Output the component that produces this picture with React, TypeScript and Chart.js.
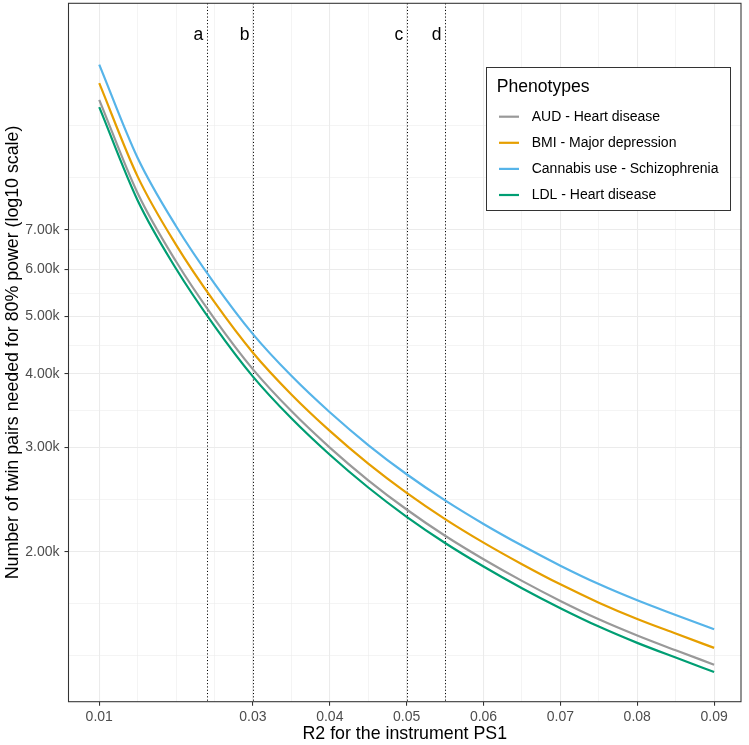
import React, { useEffect, useRef } from 'react';
import { Chart, registerables } from 'chart.js';

Chart.register(...registerables);

const FONT = "'Liberation Sans', Arial, Helvetica, sans-serif";

// R2 of the instrument (x)
const r2Values = [0.010, 0.015, 0.020, 0.025, 0.030, 0.035, 0.040, 0.045, 0.050, 0.055, 0.060, 0.065, 0.070, 0.075, 0.080, 0.085, 0.090];

// Twin pairs needed for 80% power
const audHeart = [11623, 8078, 6192, 4952, 4068, 3458, 3000, 2641, 2357, 2128, 1942, 1785, 1651, 1537, 1443, 1362, 1288];
const bmiDepression = [12402, 8619, 6607, 5284, 4340, 3689, 3201, 2818, 2515, 2271, 2072, 1905, 1761, 1640, 1539, 1454, 1375];
const cannabisScz = [13335, 9268, 7104, 5682, 4667, 3967, 3442, 3030, 2704, 2442, 2228, 2048, 1894, 1763, 1655, 1563, 1478];
const ldlHeart = [11300, 7854, 6020, 4815, 3955, 3362, 2917, 2568, 2291, 2069, 1888, 1735, 1605, 1494, 1402, 1324, 1252];

const seriesLabels = ['AUD - Heart disease', 'BMI - Major depression', 'Cannabis use - Schizophrenia', 'LDL - Heart disease'];
const seriesColors = ['#999999', '#E69F00', '#56B4E9', '#009E73'];
const legendTitle = 'Phenotypes';

// x axis breaks
const xMajorValues = [0.01, 0.03, 0.04, 0.05, 0.06, 0.07, 0.08, 0.09];
const xMajorLabels = ['0.01', '0.03', '0.04', '0.05', '0.06', '0.07', '0.08', '0.09'];
const xMinorValues = [0.015, 0.02, 0.025, 0.035, 0.045, 0.055, 0.065, 0.075, 0.085];

// y axis breaks (log10)
const yMajorValues = [2000, 3000, 4000, 5000, 6000, 7000];
const yMajorLabels = ['2.00k', '3.00k', '4.00k', '5.00k', '6.00k', '7.00k'];
const yMinorValues = [1333.3, 1633.0, 2449.5, 3464.1, 4472.1, 5477.2, 6480.7, 8573.2, 10500];

// reference lines
const markerValues = [0.024, 0.03, 0.05, 0.055];
const markerLabels = ['a', 'b', 'c', 'd'];

const xTitle = 'R2 for the instrument PS1';
const yTitle = 'Number of twin pairs needed for 80% power (log10 scale)';

const near = (a: number, b: number, eps: number) => Math.abs(a - b) < eps;
const xIsMajor = (v: number) => xMajorValues.some((m) => near(m, v, 1e-6));
const yIsMajor = (v: number) => yMajorValues.some((m) => near(m, v, 0.5));

const seriesData = [audHeart, bmiDepression, cannabisScz, ldlHeart];

const decorPlugin = {
  id: 'decor',
  beforeDatasetsDraw(chart: any) {
    const { ctx, chartArea, scales } = chart;
    ctx.save();
    ctx.strokeStyle = '#000000';
    ctx.lineWidth = 1;
    ctx.setLineDash([1.1, 2.2]);
    markerValues.forEach((v) => {
      const x = Math.round(scales.x.getPixelForValue(v)) + 0.5;
      ctx.beginPath();
      ctx.moveTo(x, chartArea.top);
      ctx.lineTo(x, chartArea.bottom);
      ctx.stroke();
    });
    ctx.restore();
  },
  afterDraw(chart: any) {
    const { ctx, chartArea, scales } = chart;
    ctx.save();
    // marker labels
    ctx.fillStyle = '#000000';
    ctx.font = `17.5px ${FONT}`;
    ctx.textAlign = 'right';
    ctx.textBaseline = 'alphabetic';
    markerValues.forEach((v, i) => {
      const x = scales.x.getPixelForValue(v);
      ctx.fillText(markerLabels[i], x - 3.5, 39.5);
    });
    // panel border
    ctx.strokeStyle = '#333333';
    ctx.lineWidth = 1.07;
    ctx.setLineDash([]);
    ctx.strokeRect(chartArea.left, chartArea.top, chartArea.right - chartArea.left, chartArea.bottom - chartArea.top);
    // legend
    const bx = 486.5, by = 67.5, bw = 244, bh = 143;
    ctx.fillStyle = '#ffffff';
    ctx.fillRect(bx, by, bw, bh);
    ctx.strokeStyle = '#333333';
    ctx.lineWidth = 1;
    ctx.strokeRect(bx, by, bw, bh);
    ctx.fillStyle = '#000000';
    ctx.textAlign = 'left';
    ctx.textBaseline = 'middle';
    ctx.font = `17.6px ${FONT}`;
    ctx.fillText(legendTitle, 496.7, 87);
    ctx.font = `14px ${FONT}`;
    chart.data.datasets.forEach((ds: any, i: number) => {
      const y = 116.7 + i * 26.1;
      ctx.strokeStyle = ds.borderColor;
      ctx.lineWidth = 2.2;
      ctx.beginPath();
      ctx.moveTo(499, y);
      ctx.lineTo(519, y);
      ctx.stroke();
      ctx.fillStyle = '#000000';
      ctx.fillText(ds.label, 531.7, y);
    });
    ctx.restore();
  },
};

export default function App() {
  const ref = useRef<HTMLCanvasElement>(null);
  useEffect(() => {
    const canvas = ref.current;
    if (!canvas) return;
    const chart = new Chart(canvas, {
      type: 'line',
      data: {
        datasets: seriesLabels.map((label, i) => ({
          label,
          data: r2Values.map((x, j) => ({ x, y: seriesData[i][j] })),
          borderColor: seriesColors[i],
          backgroundColor: seriesColors[i],
          borderWidth: 2.2,
          pointRadius: 0,
          fill: false,
          cubicInterpolationMode: 'monotone' as const,
        })),
      },
      options: {
        animation: false,
        responsive: false,
        devicePixelRatio: 1,
        layout: { padding: { left: 0, top: 3.3, right: 8, bottom: 0 } },
        plugins: { legend: { display: false }, tooltip: { enabled: false } },
        scales: {
          x: {
            type: 'linear',
            min: 0.006,
            max: 0.0935,
            afterBuildTicks: (scale: any) => {
              scale.ticks = [...xMajorValues, ...xMinorValues].sort((a, b) => a - b).map((v) => ({ value: v }));
            },
            afterFit: (scale: any) => {
              scale.height = 43.3;
              scale.paddingLeft = 0;
              scale.paddingRight = 0;
            },
            border: { display: false },
            grid: {
              color: '#EBEBEB',
              lineWidth: (c: any) => (c.tick && xIsMajor(c.tick.value) ? 1.07 : 0.55),
              tickColor: (c: any) => (c.tick && xIsMajor(c.tick.value) ? '#333333' : 'rgba(0,0,0,0)'),
              tickWidth: 1.07,
              tickLength: 4,
            },
            ticks: {
              autoSkip: false,
              maxRotation: 0,
              padding: 3.5,
              color: '#4D4D4D',
              font: { family: FONT, size: 14 },
              callback: (v: any) => {
                const idx = xMajorValues.findIndex((m) => near(m, Number(v), 1e-6));
                return idx >= 0 ? xMajorLabels[idx] : '';
              },
            },
            title: {
              display: true,
              text: xTitle,
              color: '#000000',
              font: { family: FONT, size: 17.8, lineHeight: 1 },
              padding: { top: 0, bottom: 2 },
            },
          },
          y: {
            type: 'logarithmic',
            min: 1115,
            max: 16928,
            afterBuildTicks: (scale: any) => {
              scale.ticks = [...yMajorValues, ...yMinorValues].sort((a, b) => a - b).map((v) => ({ value: v }));
            },
            afterFit: (scale: any) => {
              scale.width = 68.5;
              scale.paddingTop = 0;
              scale.paddingBottom = 0;
            },
            border: { display: false },
            grid: {
              color: '#EBEBEB',
              lineWidth: (c: any) => (c.tick && yIsMajor(c.tick.value) ? 1.07 : 0.55),
              tickColor: (c: any) => (c.tick && yIsMajor(c.tick.value) ? '#333333' : 'rgba(0,0,0,0)'),
              tickWidth: 1.07,
              tickLength: 4,
            },
            ticks: {
              autoSkip: false,
              padding: 5,
              color: '#4D4D4D',
              font: { family: FONT, size: 14 },
              callback: (v: any) => {
                const idx = yMajorValues.findIndex((m) => near(m, Number(v), 0.5));
                return idx >= 0 ? yMajorLabels[idx] : '';
              },
            },
            title: {
              display: true,
              text: yTitle,
              color: '#000000',
              font: { family: FONT, size: 17.8, lineHeight: 1 },
              padding: { top: 4.5, bottom: 0 },
            },
          },
        },
      },
      plugins: [decorPlugin],
    } as any);
    return () => chart.destroy();
  }, []);
  return (
    <div style={{ position: 'absolute', left: 0, top: 0, width: 749, height: 745, background: '#ffffff' }}>
      <canvas ref={ref} width={749} height={745} style={{ display: 'block', width: 749, height: 745 }} />
    </div>
  );
}
